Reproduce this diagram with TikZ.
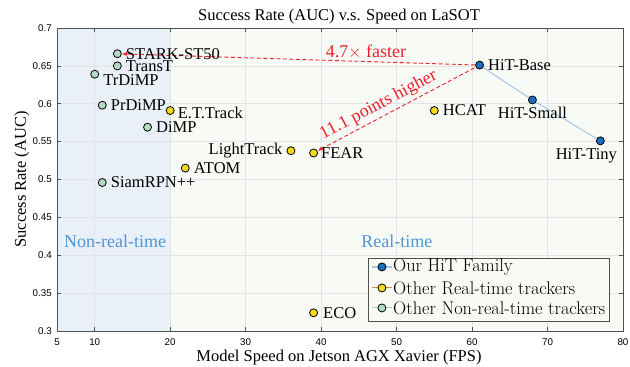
\documentclass[tikz,border=0pt]{standalone}
\usepackage{fontspec}
\newfontfamily\tms{Liberation Serif}
\newfontfamily\hlv{Liberation Sans}
\usepackage{xcolor}
\usetikzlibrary{positioning}
\usetikzlibrary{arrows.meta}
\definecolor{nonrtbg}{HTML}{E9F0F8}
\definecolor{rtbg}{HTML}{F8FAF6}
\definecolor{gridc}{HTML}{E0E4E8}
\definecolor{axisc}{HTML}{505050}
\definecolor{hitblue}{HTML}{1C6FBF}
\definecolor{hitline}{HTML}{A9CBEA}
\definecolor{rtyellow}{HTML}{F2DA1C}
\definecolor{nrtgreen}{HTML}{B5DAC2}
\definecolor{zonetxt}{HTML}{4F95D6}
\definecolor{redc}{HTML}{F0202A}
\definecolor{legorange}{HTML}{D9874A}
\definecolor{leggreen}{HTML}{A6D6AE}

\begin{document}
\begin{tikzpicture}[x=7.547pt, y=757.5pt,
  lab/.style={font=\tms\fontsize{16.5}{18}\selectfont, inner sep=0pt},
  biglab/.style={font=\tms\fontsize{18}{20}\selectfont, inner sep=0pt},
  legtxt/.style={font=\fontsize{18.3}{20}\selectfont, inner sep=0pt, anchor=west},
  ticklab/.style={font=\hlv\fontsize{9.8}{11}\selectfont, inner sep=0pt},
  dot/.style={circle, draw=black, line width=0.8pt, inner sep=0pt, minimum size=8pt, fill=#1},
  reddash/.style={redc, dash pattern=on 4pt off 2.5pt, line width=0.9pt}
]
\useasboundingbox (-2.553,0.2525) rectangle (80.93,0.73696);

% background
\fill[rtbg] (5,0.3) rectangle (80,0.7);
\fill[nonrtbg] (5,0.3) rectangle (20,0.7);

% grid
\foreach \x in {10,20,30,40,50,60,70}
  \draw[gridc, line width=0.5pt] (\x,0.3) -- (\x,0.7);
\foreach \y in {0.35,0.4,0.45,0.5,0.55,0.6,0.65}
  \draw[gridc, line width=0.5pt] (5,\y) -- (80,\y);

% axes and ticks
\draw[axisc, line width=0.8pt] (5,0.3) rectangle (80,0.7);
\foreach \x in {10,20,30,40,50,60,70}{
  \draw[axisc, line width=0.6pt] (\x,0.3) -- ++(0pt,4pt);
  \draw[axisc, line width=0.6pt] (\x,0.7) -- ++(0pt,-4pt);
}
\foreach \y in {0.35,0.4,0.45,0.5,0.55,0.6,0.65}{
  \draw[axisc, line width=0.6pt] (5,\y) -- ++(4pt,0pt);
  \draw[axisc, line width=0.6pt] (80,\y) -- ++(-4pt,0pt);
}
\foreach \x in {5,10,20,30,40,50,60,70,80}
  \node[ticklab] at ([yshift=-11pt]\x,0.3) {\x};
\foreach \y in {0.3,0.35,0.4,0.45,0.5,0.55,0.6,0.65,0.7}
  \node[ticklab, anchor=east] at ([xshift=-5pt]5,\y) {\y};

% titles
\node[lab] (title) at (42.37,0.7145) {Success Rate (AUC) v.s. Speed on LaSOT};
\node[lab] (xlabel) at (42.37,0.2644) {Model Speed on Jetson AGX Xavier (FPS)};
\node[lab, rotate=90] (ylabel) at (0.36,0.5) {Success Rate (AUC)};

\node[biglab, zonetxt] (nonrt) at (12.69,0.4188) {Non-real-time};
\node[biglab, zonetxt] (rt) at (50.05,0.4188) {Real-time};

% other non-real-time trackers
\node[dot=nrtgreen] (stark) at (13,0.666) {};
\node[dot=nrtgreen] (transt) at (13,0.650) {};
\node[dot=nrtgreen] (trdimp) at (10,0.639) {};
\node[dot=nrtgreen] (prdimp) at (11,0.598) {};
\node[dot=nrtgreen] (dimp) at (17,0.569) {};
\node[dot=nrtgreen] (siamrpn) at (11,0.496) {};

% other real-time trackers
\node[dot=rtyellow] (ettrack) at (20,0.591) {};
\node[dot=rtyellow] (lighttrack) at (36,0.538) {};
\node[dot=rtyellow] (atom) at (22,0.515) {};
\node[dot=rtyellow] (fear) at (39,0.535) {};
\node[dot=rtyellow] (hcat) at (55,0.591) {};
\node[dot=rtyellow] (eco) at (39,0.324) {};

% our HiT family
\node[dot=hitblue] (hitbase) at (61,0.651) {};
\node[dot=hitblue] (hitsmall) at (68,0.605) {};
\node[dot=hitblue] (hittiny) at (77,0.551) {};
\draw[hitline, line width=1.1pt] (hitbase) -- (hitsmall) -- (hittiny);

% red comparisons
\draw[reddash, -{Latex[length=5pt,width=4pt]}] (hitbase) -- (stark);
\draw[reddash, {Latex[length=5pt,width=4pt]}-] (fear) -- (hitbase)
  node[biglab, redc, pos=0.42, sloped, above=3pt] (higher) {11.1 points higher};
\node[biglab, redc] (faster) at (45.94,0.6683) {4.7$\times$ faster};

% labels
\node[lab, right=4pt of stark] (starkL) {STARK-ST50};
\node[lab, right=4pt of transt] (transtL) {TransT};
\node[lab, right=4pt of trdimp, yshift=-6pt] (trdimpL) {TrDiMP};
\node[lab, right=4pt of prdimp] (prdimpL) {PrDiMP};
\node[lab, right=3pt of ettrack, yshift=-2pt] (ettrackL) {E.T.Track};
\node[lab, right=4pt of dimp] (dimpL) {DiMP};
\node[lab, left=4pt of lighttrack] (lighttrackL) {LightTrack};
\node[lab, right=4pt of atom] (atomL) {ATOM};
\node[lab, right=4pt of siamrpn] (siamrpnL) {SiamRPN++};
\node[lab, right=3pt of fear] (fearL) {FEAR};
\node[lab, right=4pt of hcat] (hcatL) {HCAT};
\node[lab, right=4pt of hitbase] (hitbaseL) {HiT-Base};
\node[lab, below=3pt of hitsmall] (hitsmallL) {HiT-Small};
\node[lab, below=3pt of hittiny, xshift=-14pt] (hittinyL) {HiT-Tiny};
\node[lab, right=5pt of eco] (ecoL) {ECO};

% legend
\draw[axisc, fill=rtbg, line width=0.8pt] (46.21,0.3132) rectangle (78.14,0.3964);
\draw[hitline, line width=1.1pt] (46.74,0.3845) -- (49.39,0.3845);
\draw[legorange, line width=1.1pt] (46.74,0.3568) -- (49.39,0.3568);
\draw[leggreen, line width=1.1pt] (46.74,0.3304) -- (49.39,0.3304);
\node[dot=hitblue] (leghit) at (48.06,0.3845) {};
\node[dot=rtyellow] (legrt) at (48.06,0.3568) {};
\node[dot=nrtgreen] (legnrt) at (48.06,0.3304) {};
\node[legtxt] (leghitL) at (49.52,0.3845) {Our HiT Family};
\node[legtxt] (legrtL) at (49.52,0.3568) {Other Real-time trackers};
\node[legtxt] (legnrtL) at (49.52,0.3304) {Other Non-real-time trackers};

\end{tikzpicture}
\end{document}
